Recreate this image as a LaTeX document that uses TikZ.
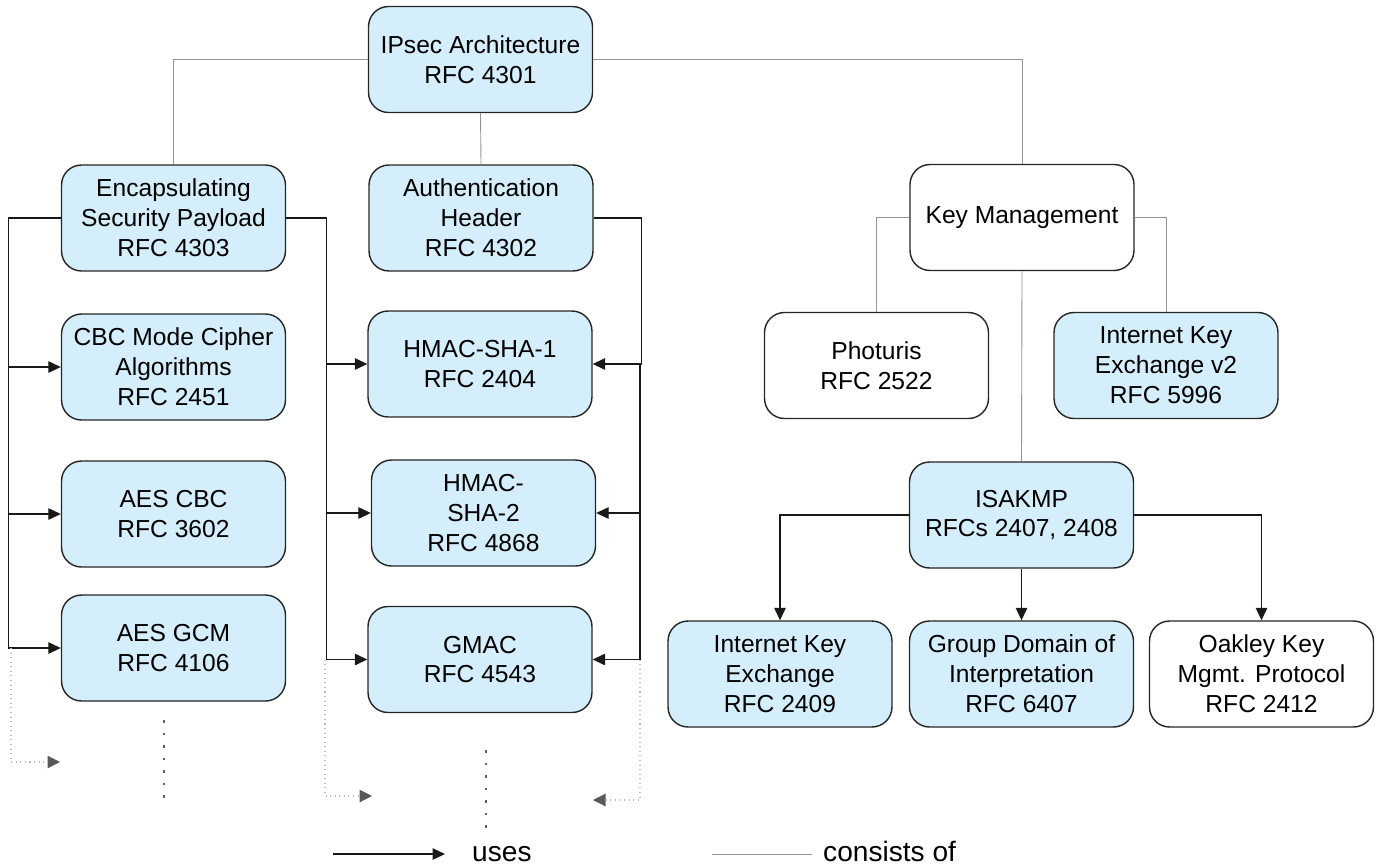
\documentclass[tikz,border=0pt]{standalone}
\usepackage{fontspec}
\setmainfont{Liberation Sans}
\usetikzlibrary{arrows.meta}
\definecolor{rfcblue}{RGB}{212,238,251}
\tikzset{
  rfcbox/.style={draw=black!85,line width=0.8pt,rounded corners=0.4cm,fill=rfcblue,
    minimum width=4.48cm,minimum height=2.12cm,align=center,font=\fontsize{14}{17}\selectfont},
  plainbox/.style={rfcbox,fill=white},
  usesarrow/.style={-{Triangle[length=0.25cm,width=0.23cm]},line width=0.7pt,black!90},
  consistsline/.style={line width=0.5pt,gray!85},
  morearrow/.style={-{Triangle[length=0.25cm,width=0.25cm,color=black!65]},dotted,line width=0.6pt,gray!55},
  moredots/.style={line width=0.055cm,dash pattern=on 0.055cm off 0.195cm,black!62},
  legendtext/.style={anchor=base west,font=\fontsize{16}{19}\selectfont}
}

\begin{document}
\begin{tikzpicture}[x=0.02cm,y=-0.02cm]
  \useasboundingbox (0,0) rectangle (1379,866);

  % boxes
  \node[rfcbox] (ipsec) at (480.5,59.5) {IPsec Architecture\\RFC 4301};
  \node[rfcbox] (esp) at (173.5,218) {Encapsulating\\Security Payload\\RFC 4303};
  \node[rfcbox] (ah) at (481,218) {Authentication\\Header\\RFC 4302};
  \node[plainbox] (keymgmt) at (1022,217.5) {Key Management};
  \node[rfcbox] (cbc) at (173.5,367) {CBC Mode Cipher\\Algorithms\\RFC 2451};
  \node[rfcbox] (aescbc) at (173.5,514) {AES CBC\\RFC 3602};
  \node[rfcbox] (aesgcm) at (173.5,648) {AES GCM\\RFC 4106};
  \node[rfcbox] (sha1) at (480,364) {HMAC-SHA-1\\RFC 2404};
  \node[rfcbox] (sha2) at (483.5,513) {HMAC-\\SHA-2\\RFC 4868};
  \node[rfcbox] (gmac) at (480,659.5) {GMAC\\RFC 4543};
  \node[plainbox] (photuris) at (876.5,365.5) {Photuris\\RFC 2522};
  \node[rfcbox] (ikevtwo) at (1166,365.5) {Internet Key\\Exchange v2\\RFC 5996};
  \node[rfcbox] (isakmp) at (1021.5,515) {ISAKMP\\RFCs 2407, 2408};
  \node[rfcbox] (ike) at (780,674) {Internet Key\\Exchange\\RFC 2409};
  \node[rfcbox] (gdoi) at (1021.5,674) {Group Domain of\\Interpretation\\RFC 6407};
  \node[plainbox] (oakley) at (1261.5,674) {Oakley Key\\Mgmt. Protocol\\RFC 2412};

  % consists of
  \draw[consistsline] (ipsec.west) -| (esp.north);
  \draw[consistsline] (ipsec.south) -- (ah.north);
  \draw[consistsline] (ipsec.east) -| (keymgmt.north);
  \draw[consistsline] (keymgmt.west) -| (photuris.north);
  \draw[consistsline] (keymgmt.east) -| (ikevtwo.north);
  \draw[consistsline] (keymgmt.south) -- (isakmp.north);

  % uses
  \foreach \t in {cbc,aescbc,aesgcm} {
    \draw[usesarrow] (esp.west) -- ++(-52,0) |- (\t.west);
  }
  \foreach \t in {sha1,sha2,gmac} {
    \draw[usesarrow] (esp.east) -- ++(40,0) |- (\t.west);
  }
  \coordinate (ahbus) at (640,364);
  \draw[usesarrow] (ah.east) -- ++(48,0) |- (sha1.east);
  \foreach \t in {sha2,gmac} {
    \draw[usesarrow] (ahbus) |- (\t.east);
  }
  \draw[usesarrow] (isakmp.west) -| (ike.north);
  \draw[usesarrow] (isakmp.south) -- (gdoi.north);
  \draw[usesarrow] (isakmp.east) -| (oakley.north);

  % more to come
  \coordinate (lbus) at (11,648);   \coordinate (ltip) at (60,762);
  \coordinate (mbus) at (325,659.5); \coordinate (mtip) at (372,796);
  \coordinate (rbus) at (640,659.5); \coordinate (rtip) at (593,800);
  \draw[morearrow] (lbus) |- (ltip);
  \draw[morearrow] (mbus) |- (mtip);
  \draw[morearrow] (rbus) |- (rtip);
  \draw[moredots] (164,720) -- (164,798);
  \draw[moredots] (486,750) -- (486,828);

  % legend
  \coordinate (usesfrom) at (333,854);  \coordinate (usesto) at (445,854);
  \coordinate (consfrom) at (712,854);  \coordinate (consto) at (812,854);
  \draw[usesarrow] (usesfrom) -- (usesto);
  \draw[consistsline] (consfrom) -- (consto);
  \node[legendtext] (usestxt) at (466,861) {uses};
  \node[legendtext] (constxt) at (817,861) {consists of};
\end{tikzpicture}
\end{document}
